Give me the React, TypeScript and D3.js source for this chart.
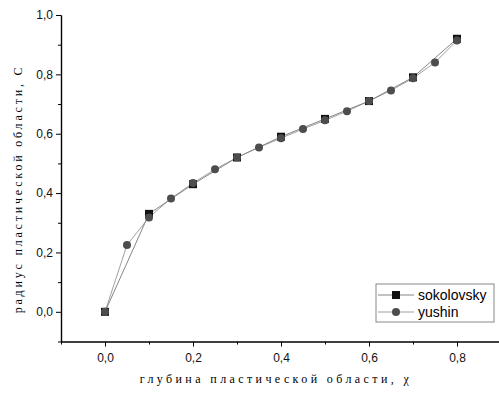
import React, { useEffect, useRef } from "react";
import * as d3 from "d3";

const sokolovskyX = [0, 0.1, 0.2, 0.3, 0.4, 0.5, 0.6, 0.7, 0.8];
const sokolovskyY = [0, 0.33, 0.43, 0.52, 0.59, 0.65, 0.71, 0.79, 0.92];
const yushinX = [0, 0.05, 0.1, 0.15, 0.2, 0.25, 0.3, 0.35, 0.4, 0.45, 0.5, 0.55, 0.6, 0.65, 0.7, 0.75, 0.8];
const yushinY = [0, 0.225, 0.318, 0.382, 0.434, 0.48, 0.52, 0.554, 0.585, 0.616, 0.645, 0.676, 0.71, 0.746, 0.787, 0.84, 0.914];
const xTicks = [0, 0.2, 0.4, 0.6, 0.8];
const yTicks = [0, 0.2, 0.4, 0.6, 0.8, 1.0];
const xLabel = "глубина пластической области, χ";
const yLabel = "радиус пластической области, С";
const legendNames = ["sokolovsky", "yushin"];

const width = 499;
const height = 393;

const App = () => {
  const ref = useRef<SVGSVGElement>(null);

  useEffect(() => {
    const svg = d3.select(ref.current);
    svg.selectAll("*").remove();

    const x = d3.scaleLinear().domain([-0.1, 0.9]).range([61, 501]);
    const y = d3.scaleLinear().domain([-0.1, 1.0]).range([341.5, 15]);
    const fmt = (d: number) => d3.format(".1f")(d).replace(".", ",");

    // axes
    const xAxis = svg
      .append("g")
      .attr("transform", `translate(0,${y(-0.1)})`)
      .call(d3.axisBottom(x).tickValues(xTicks).tickFormat(fmt as any).tickSize(5).tickSizeOuter(0));
    svg
      .append("g")
      .attr("transform", `translate(0,${y(-0.1)})`)
      .call(d3.axisBottom(x).tickValues([-0.1, 0.1, 0.3, 0.5, 0.7, 0.9]).tickFormat(() => "").tickSize(3).tickSizeOuter(0));
    const yAxis = svg
      .append("g")
      .attr("transform", `translate(${x(-0.1)},0)`)
      .call(d3.axisLeft(y).tickValues(yTicks).tickFormat(fmt as any).tickSize(5).tickSizeOuter(0));
    svg
      .append("g")
      .attr("transform", `translate(${x(-0.1)},0)`)
      .call(d3.axisLeft(y).tickValues([-0.1, 0.1, 0.3, 0.5, 0.7, 0.9]).tickFormat(() => "").tickSize(3).tickSizeOuter(0));

    svg.selectAll(".domain").attr("stroke", "#000").attr("stroke-width", 1.2);
    svg.selectAll(".tick line").attr("stroke", "#000");
    [xAxis, yAxis].forEach(g =>
      g.selectAll("text").attr("font-family", "Liberation Sans, Arial, sans-serif").attr("font-size", 12).attr("fill", "#111")
    );
    xAxis.selectAll("text").attr("dy", "1.05em");

    // lines
    const line = d3
      .line<[number, number]>()
      .x(d => x(d[0]))
      .y(d => y(d[1]));

    const sok = sokolovskyX.map((v, i) => [v, sokolovskyY[i]] as [number, number]);
    const yus = yushinX.map((v, i) => [v, yushinY[i]] as [number, number]);

    svg.append("path").attr("d", line(sok)).attr("fill", "none").attr("stroke", "#666").attr("stroke-width", 0.8);
    svg.append("path").attr("d", line(yus)).attr("fill", "none").attr("stroke", "#888").attr("stroke-width", 0.8);

    svg
      .append("g")
      .selectAll("rect")
      .data(sok)
      .join("rect")
      .attr("x", d => x(d[0]) - 4)
      .attr("y", d => y(d[1]) - 4)
      .attr("width", 8)
      .attr("height", 8)
      .attr("fill", "#111");

    svg
      .append("g")
      .selectAll("circle")
      .data(yus)
      .join("circle")
      .attr("cx", d => x(d[0]))
      .attr("cy", d => y(d[1]))
      .attr("r", 4)
      .attr("fill", "#4d4d4d");

    // legend
    const lg = svg.append("g").attr("transform", "translate(376,284)");
    lg.append("rect").attr("width", 118).attr("height", 38).attr("fill", "#fff").attr("stroke", "#888").attr("stroke-width", 1);
    legendNames.forEach((name, i) => {
      const cy = 11 + i * 17;
      lg.append("line").attr("x1", 2).attr("x2", 38).attr("y1", cy).attr("y2", cy).attr("stroke", i === 0 ? "#666" : "#888").attr("stroke-width", 0.8);
      if (i === 0) {
        lg.append("rect").attr("x", 16).attr("y", cy - 4).attr("width", 8).attr("height", 8).attr("fill", "#111");
      } else {
        lg.append("circle").attr("cx", 20).attr("cy", cy).attr("r", 4).attr("fill", "#4d4d4d");
      }
      lg.append("text")
        .attr("x", 42)
        .attr("y", cy + 5)
        .attr("font-family", "Liberation Sans, Arial, sans-serif")
        .attr("font-size", 14)
        .attr("fill", "#000")
        .text(name);
    });

    // axis titles
    svg
      .append("text")
      .attr("x", 276)
      .attr("y", 383)
      .attr("text-anchor", "middle")
      .attr("font-family", "Liberation Serif, Times New Roman, serif")
      .attr("font-size", 12)
      .attr("letter-spacing", 3.4)
      .attr("fill", "#000")
      .text(xLabel);
    svg
      .append("text")
      .attr("transform", "translate(22,189) rotate(-90)")
      .attr("text-anchor", "middle")
      .attr("font-family", "Liberation Serif, Times New Roman, serif")
      .attr("font-size", 12)
      .attr("letter-spacing", 2.8)
      .attr("fill", "#000")
      .text(yLabel);
  }, []);

  return (
    <svg
      ref={ref}
      width={width}
      height={height}
      style={{ position: "absolute", left: 0, top: 0, background: "#fff" }}
    />
  );
};

export default App;
